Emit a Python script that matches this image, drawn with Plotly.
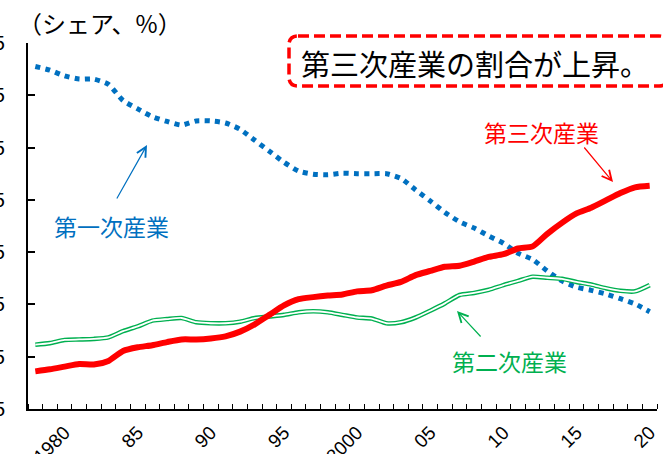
import plotly.graph_objects as go

years = list(range(1978, 2021))
primary = [70.5, 69.8, 68.7, 68.1, 68.1, 67.1, 64.0, 62.4, 60.9, 60.0, 59.3, 60.1, 60.1,
           59.7, 58.5, 56.4, 54.3, 52.2, 50.5, 49.9, 49.8, 50.1, 50.0, 50.0, 50.0, 49.1,
           46.9, 44.8, 42.6, 40.8, 39.6, 38.1, 36.7, 34.8, 33.6, 31.4, 29.5, 28.3, 27.7,
           27.0, 26.1, 25.1, 23.6]
secondary = [17.3, 17.6, 18.2, 18.3, 18.4, 18.7, 19.9, 20.8, 21.9, 22.2, 22.4, 21.6, 21.4,
             21.4, 21.7, 22.4, 22.7, 23.0, 23.5, 23.7, 23.5, 23.0, 22.5, 22.3, 21.4, 21.6,
             22.5, 23.8, 25.2, 26.8, 27.2, 27.8, 28.7, 29.5, 30.3, 30.1, 29.9, 29.3, 28.8,
             28.1, 27.6, 27.5, 28.7]
tertiary = [12.2, 12.6, 13.1, 13.6, 13.5, 14.2, 16.1, 16.8, 17.2, 17.8, 18.3, 18.3, 18.5,
            18.9, 19.8, 21.2, 23.0, 24.8, 26.0, 26.4, 26.7, 26.9, 27.5, 27.7, 28.6, 29.3,
            30.6, 31.4, 32.2, 32.4, 33.2, 34.1, 34.6, 35.7, 36.1, 38.5, 40.6, 42.4, 43.5,
            44.9, 46.3, 47.4, 47.7]
x_tick_vals = [1980, 1985, 1990, 1995, 2000, 2005, 2010, 2015, 2020]
x_tick_text = ["1980", "85", "90", "95", "2000", "05", "10", "15", "20"]
y_tick_vals = [5, 15, 25, 35, 45, 55, 65, 75]
y_tick_text = ["5", "15", "25", "35", "45", "55", "65", "75"]

FW, FH = 663, 454
L, R, T, B = 28, 657, 43, 409
PW, PH = R - L, B - T


def px(xp):
    return (xp - L) / PW


def py(yp):
    return (B - yp) / PH


JP = "Noto Sans CJK JP"
NUM = "Liberation Sans, Arial, sans-serif"
BLUE = "#0070C0"
RED = "#FF0000"
GREEN = "#00B050"

fig = go.Figure()
fig.add_trace(go.Scatter(x=years, y=primary, mode="lines",
                         line=dict(color=BLUE, width=5, dash="5px,5.3px", shape="spline", smoothing=0.6),
                         hoverinfo="skip"))
fig.add_trace(go.Scatter(x=years, y=secondary, mode="lines",
                         line=dict(color=GREEN, width=4.6, shape="spline", smoothing=0.6),
                         hoverinfo="skip"))
fig.add_trace(go.Scatter(x=years, y=secondary, mode="lines",
                         line=dict(color="white", width=1.8, shape="spline", smoothing=0.6),
                         hoverinfo="skip"))
fig.add_trace(go.Scatter(x=years, y=tertiary, mode="lines",
                         line=dict(color=RED, width=6, shape="spline", smoothing=0.6),
                         hoverinfo="skip"))

fig.update_layout(
    width=FW, height=FH,
    margin=dict(l=L, r=FW - R, t=T, b=FH - B, autoexpand=False),
    paper_bgcolor="white", plot_bgcolor="white",
    showlegend=False,
    xaxis=dict(range=[1977.5, 2020.5], showgrid=False, zeroline=False, automargin=False,
               showline=True, linecolor="black", linewidth=2,
               tickmode="array", tickvals=x_tick_vals, ticktext=x_tick_text,
               ticks="", tickangle=-45, ticklabelstandoff=3,
               tickfont=dict(family=NUM, size=19, color="black"),
               minor=dict(tick0=1977.5, dtick=1, ticks="inside", ticklen=5,
                          tickwidth=1.2, tickcolor="black", showgrid=False)),
    yaxis=dict(range=[5, 75], showgrid=False, zeroline=False, automargin=False,
               showline=True, linecolor="black", linewidth=2,
               tickmode="array", tickvals=y_tick_vals, ticktext=y_tick_text,
               ticks="inside", ticklen=7, tickwidth=1.5, tickcolor="black",
               ticklabelstandoff=17,
               tickfont=dict(family=NUM, size=20, color="black")),
)

# unit label
fig.add_annotation(x=px(16), y=py(22), xref="paper", yref="paper", xanchor="left", yanchor="middle",
                   text="（シェア、%）", showarrow=False,
                   font=dict(family=JP, size=24, color="black"))

# dashed rounded box
x0, x1, y0, y1, r = 289, 668, 36, 86, 9
pts = (f"M {px(x0 + r)},{py(y0)} L {px(x1 - r)},{py(y0)} Q {px(x1)},{py(y0)} {px(x1)},{py(y0 + r)} "
       f"L {px(x1)},{py(y1 - r)} Q {px(x1)},{py(y1)} {px(x1 - r)},{py(y1)} "
       f"L {px(x0 + r)},{py(y1)} Q {px(x0)},{py(y1)} {px(x0)},{py(y1 - r)} "
       f"L {px(x0)},{py(y0 + r)} Q {px(x0)},{py(y0)} {px(x0 + r)},{py(y0)} Z")
fig.add_shape(type="path", xref="paper", yref="paper", path=pts,
              line=dict(color=RED, width=3.5, dash="11px,5px"), fillcolor="white", layer="above")
fig.add_annotation(x=px(475), y=py(63), xref="paper", yref="paper", xanchor="center", yanchor="middle",
                   text="第三次産業の割合が上昇。", showarrow=False,
                   font=dict(family=JP, size=29, color="black"))

# series labels
fig.add_annotation(x=px(111), y=py(226), xref="paper", yref="paper", xanchor="center", yanchor="middle",
                   text="第一次産業", showarrow=False, font=dict(family=JP, size=23, color=BLUE))
fig.add_annotation(x=px(541), y=py(132), xref="paper", yref="paper", xanchor="center", yanchor="middle",
                   text="第三次産業", showarrow=False, font=dict(family=JP, size=23, color=RED))
fig.add_annotation(x=px(510), y=py(361), xref="paper", yref="paper", xanchor="center", yanchor="middle",
                   text="第二次産業", showarrow=False, font=dict(family=JP, size=23, color=GREEN))

# arrows (head position, tail offset in pixels)
for (hx, hy, tx, ty, c) in [(147, 145, 116, 200, BLUE),
                            (613, 182, 583, 146, RED),
                            (457, 311, 482, 338, GREEN)]:
    fig.add_annotation(x=px(hx), y=py(hy), xref="paper", yref="paper", text="",
                       showarrow=True, ax=tx - hx, ay=ty - hy,
                       arrowhead=5, arrowsize=1.6, arrowwidth=1.2, arrowcolor=c)

fig.write_html("out.html")
